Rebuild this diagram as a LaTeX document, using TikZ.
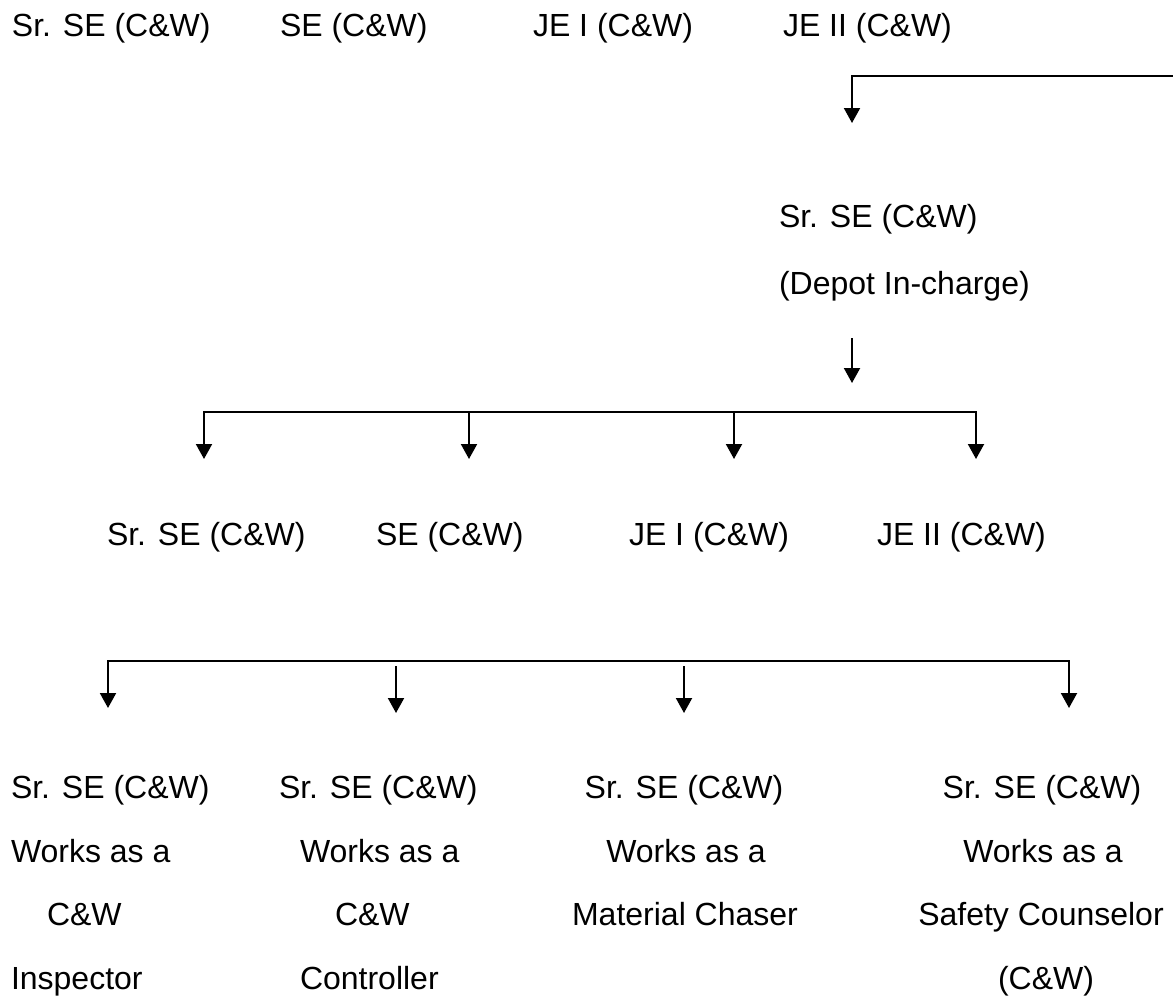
\documentclass[tikz,border=0pt]{standalone}
\usepackage{fontspec}
\setmainfont{Liberation Sans}
\usetikzlibrary{arrows.meta}
\begin{document}
\begin{tikzpicture}[x=1pt,y=-1pt,
  lbl/.style={inner sep=0pt, outer sep=0pt, font=\fontsize{32}{38}\selectfont, anchor=base west},
  lblc/.style={lbl, anchor=base},
  conn/.style={line width=2pt, line join=miter},
  arr/.style={conn, -{Triangle[width=16pt,length=15pt]}}]
\useasboundingbox (0,0) rectangle (1173,998);

% top row
\node[lbl] (t1) at (12,37) {Sr. SE (C\&W)};
\node[lbl] (t2) at (280,37) {SE (C\&W)};
\node[lbl] (t3) at (533,37) {JE I (C\&W)};
\node[lbl] (t4) at (783,37) {JE II (C\&W)};

% incoming connector
\coordinate (inR) at (1173,76);
\coordinate (inC) at (852,76);
\coordinate (inT) at (852,123);
\draw[arr] (inR) -- (inC) -- (inT);

% depot in-charge
\node[lbl] (d1) at (779,227) {Sr. SE (C\&W)};
\node[lbl] (d2) at (779,294) {(Depot In-charge)};
\coordinate (da) at (852,338);
\coordinate (db) at (852,383);
\draw[arr] (da) -- (db);

% middle bus
\coordinate (b1) at (204,412);
\coordinate (b2) at (469,412);
\coordinate (b3) at (734,412);
\coordinate (b4) at (976,412);
\coordinate (b1t) at (204,459);
\coordinate (b2t) at (469,459);
\coordinate (b3t) at (734,459);
\coordinate (b4t) at (976,459);
\draw[arr] (b2) -- (b1) -- (b1t);
\draw[arr] (b3) -- (b4) -- (b4t);
\draw[conn] (b2) -- (b3);
\draw[arr] (b2) -- (b2t);
\draw[arr] (b3) -- (b3t);

% middle row
\node[lbl] (m1) at (107,545) {Sr. SE (C\&W)};
\node[lbl] (m2) at (376,545) {SE (C\&W)};
\node[lbl] (m3) at (629,545) {JE I (C\&W)};
\node[lbl] (m4) at (877,545) {JE II (C\&W)};

% bottom bus
\coordinate (e1) at (108,661);
\coordinate (e4) at (1069,661);
\coordinate (e1t) at (108,708);
\coordinate (e4t) at (1069,708);
\draw[arr] (e4) -- (e1) -- (e1t);
\draw[arr] (e1) -- (e4) -- (e4t);
\coordinate (e2) at (396,666);
\coordinate (e2t) at (396,713);
\coordinate (e3) at (684,666);
\coordinate (e3t) at (684,713);
\draw[arr] (e2) -- (e2t);
\draw[arr] (e3) -- (e3t);

% column 1
\node[lbl] (c1a) at (11,798) {Sr. SE (C\&W)};
\node[lbl] (c1b) at (11,862) {Works as a};
\node[lbl] (c1c) at (47,925) {C\&W};
\node[lbl] (c1d) at (11,989) {Inspector};

% column 2
\node[lbl] (c2a) at (279,798) {Sr. SE (C\&W)};
\node[lbl] (c2b) at (300,862) {Works as a};
\node[lbl] (c2c) at (335,925) {C\&W};
\node[lbl] (c2d) at (300,989) {Controller};

% column 3
\node[lblc] (c3a) at (684,798) {Sr. SE (C\&W)};
\node[lblc] (c3b) at (686,862) {Works as a};
\node[lblc] (c3c) at (685,925) {Material Chaser};

% column 4
\node[lblc] (c4a) at (1042,798) {Sr. SE (C\&W)};
\node[lblc] (c4b) at (1043,862) {Works as a};
\node[lblc] (c4c) at (1041,925) {Safety Counselor};
\node[lblc] (c4d) at (1046,989) {(C\&W)};
\end{tikzpicture}
\end{document}
